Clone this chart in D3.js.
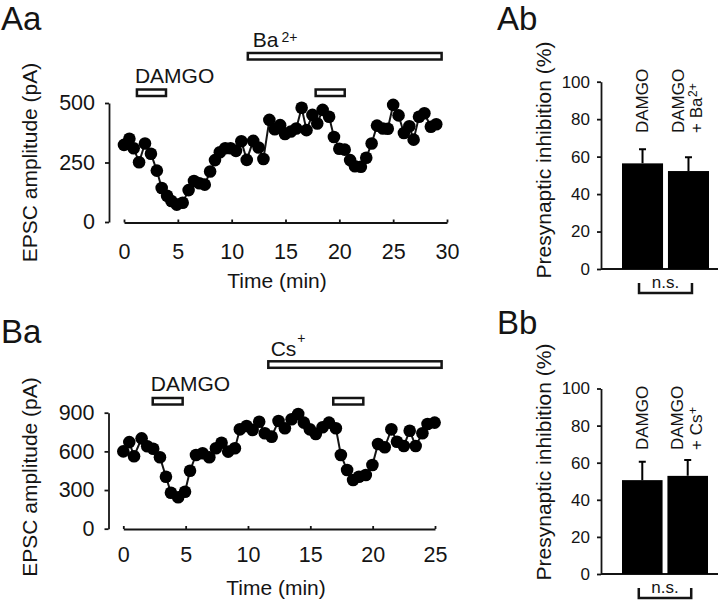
<!DOCTYPE html>
<html><head><meta charset="utf-8">
<script src="https://cdn.jsdelivr.net/npm/d3@7"></script>
<style>
body{margin:0;background:#fff;}
svg{display:block;font-family:"Liberation Sans",Arial,Helvetica,sans-serif;}
</style></head><body>
<svg id="c" width="720" height="604"></svg>
<script>
// ---------- DATA ----------
// Panel Aa: EPSC amplitude (pA) vs time (min)
const aTime = [0,0.5,0.9,1.4,1.95,2.5,3.05,3.5,4.0,4.4,4.9,5.45,6.0,6.5,7.0,7.5,8.0,8.45,8.9,9.4,9.9,10.4,10.9,11.4,12.0,12.5,12.95,13.5,14.0,14.5,14.95,15.5,16.0,16.5,16.95,17.5,17.95,18.45,19.05,19.5,20.0,20.5,21.0,21.45,22.0,22.5,23.0,23.5,24.05,24.5,25.0,25.5,26.0,26.5,26.9,27.4,27.9,28.5,29.0];
const aAmp  = [324,350,310,251,330,287,216,143,110,88,73,81,134,172,163,157,212,260,293,310,310,299,339,261,341,313,265,429,390,407,370,380,393,480,386,450,414,471,442,357,308,304,260,234,232,270,330,405,393,392,492,448,374,402,346,442,457,400,411];
const aXTicks = [0,5,10,15,20,25,30];
const aYTicks = [0,250,500];
const aDrugStart = [1.2,17.8,11.5];
const aDrugEnd   = [3.9,20.5,29.5];

// Panel Ba
const bTime = [0,0.48,0.86,1.47,1.92,2.4,2.94,3.42,3.82,4.4,4.95,5.35,5.83,6.36,6.9,7.43,7.88,8.41,8.95,9.35,9.89,10.37,10.9,11.35,11.9,12.45,12.96,13.5,14.03,14.48,14.96,15.44,15.98,16.5,17.05,17.45,17.95,18.43,18.9,19.45,19.98,20.43,20.97,21.5,21.95,22.5,22.97,23.45,23.99,24.4,24.97];
const bAmp  = [600,672,562,701,640,620,554,403,279,244,287,450,572,585,554,624,667,598,624,771,797,766,830,740,714,836,779,849,890,823,771,735,787,823,779,572,455,378,403,417,494,657,632,771,675,642,760,642,740,812,823];
const bXTicks = [0,5,10,15,20,25];
const bYTicks = [0,300,600,900];
const bDrugStart = [2.36,16.84,11.63];
const bDrugEnd   = [4.76,19.25,25.53];

// Panels Ab / Bb: presynaptic inhibition (%)
const barYTicks = [0,20,40,60,80,100];
const abCats = ["DAMGO","DAMGO + Ba2+"];
const abMean = [56.4,52.3];
const abSem  = [7.5,7.3];
const bbCats = ["DAMGO","DAMGO + Cs+"];
const bbMean = [50.6,52.9];
const bbSem  = [9.9,8.5];

// ---------- DRAWING ----------
const svg = d3.select("#c");
const INK = "#141414";

function styleAxis(g, fs){
  g.attr("font-family", null).attr("font-size", fs);
  g.select(".domain").attr("stroke", INK).attr("stroke-width", 1.8);
  g.selectAll(".tick line").attr("stroke", INK).attr("stroke-width", 1.8);
  g.selectAll(".tick text").attr("fill", INK);
}

function trace(o){
  const x = d3.scaleLinear().domain([o.xTicks[0], o.xTicks[o.xTicks.length-1]]).range(o.xR);
  const y = d3.scaleLinear().domain([o.yTicks[0], o.yTicks[o.yTicks.length-1]]).range(o.yR);
  const g = svg.append("g");
  styleAxis(g.append("g").attr("transform", `translate(${o.yAxisX},0)`)
    .call(d3.axisLeft(y).tickValues(o.yTicks).tickSize(4).tickSizeOuter(0).tickPadding(o.yPad)), 21.5);
  styleAxis(g.append("g").attr("transform", `translate(0,${o.xAxisY})`)
    .call(d3.axisBottom(x).tickValues(o.xTicks).tickSize(-3).tickSizeOuter(0).tickPadding(o.xPad)), 21.5);

  const pts = d3.zip(o.t, o.v);
  g.append("path").datum(pts)
    .attr("d", d3.line().x(d => x(d[0])).y(d => y(d[1])))
    .attr("fill", "none").attr("stroke", INK).attr("stroke-width", 2);
  g.selectAll("circle.pt").data(pts).join("circle").attr("class","pt")
    .attr("cx", d => x(d[0])).attr("cy", d => y(d[1])).attr("r", 6.3).attr("fill", "#000");

  // drug application bars
  o.drugStart.forEach((s, i) => {
    g.append("rect").attr("x", x(s)).attr("y", o.drugRowY[i])
      .attr("width", x(o.drugEnd[i]) - x(s)).attr("height", 6.5)
      .attr("fill", "#fff").attr("stroke", INK).attr("stroke-width", 2.5);
  });
  // DAMGO label
  g.append("text").attr("x", x(o.drugStart[0]) - 2).attr("y", o.damgoY)
    .attr("font-size", 21).attr("fill", INK).text("DAMGO");
  // ion label
  const t = g.append("text").attr("x", x(o.drugStart[2]) + o.ionDx).attr("y", o.ionY)
    .attr("font-size", 21).attr("fill", INK);
  t.append("tspan").text(o.ion);
  t.append("tspan").attr("dx", o.supDx).attr("dy", o.supDy).attr("font-size", 14).text(o.ionSup);

  // axis titles
  g.append("text").attr("x", o.titleX).attr("y", o.titleY).attr("text-anchor", "middle")
    .attr("font-size", 21).attr("fill", INK).text("Time (min)");
  g.append("text").attr("transform", `translate(${o.yTitleX},${o.yTitleY}) rotate(-90)`)
    .attr("text-anchor", "middle").attr("font-size", 21).attr("fill", INK).text("EPSC amplitude (pA)");
}

function bars(o){
  const x = d3.scaleBand().domain(o.cats).range(o.xR).paddingInner(0.107);
  const y = d3.scaleLinear().domain([0,100]).range(o.yR);
  const g = svg.append("g");
  styleAxis(g.append("g").attr("transform", `translate(${o.axisX},0)`)
    .call(d3.axisLeft(y).tickValues(barYTicks).tickSize(4).tickSizeOuter(0).tickPadding(7)), 17);
  g.append("line").attr("x1", o.axisX).attr("x2", o.xEnd).attr("y1", y(0)).attr("y2", y(0))
    .attr("stroke", INK).attr("stroke-width", 1.8);
  g.selectAll("rect.bar").data(o.cats).join("rect").attr("class","bar")
    .attr("x", d => x(d)).attr("width", x.bandwidth())
    .attr("y", (d,i) => y(o.mean[i])).attr("height", (d,i) => y(0) - y(o.mean[i]))
    .attr("fill", "#000");
  o.cats.forEach((c, i) => {
    const cx = x(c) + x.bandwidth()/2;
    g.append("path")
      .attr("d", `M${cx},${y(o.mean[i])}V${y(o.mean[i]+o.sem[i])}M${cx-3.5},${y(o.mean[i]+o.sem[i])}H${cx+3.5}`)
      .attr("stroke", "#000").attr("stroke-width", 2).attr("fill", "none");
  });
  // rotated labels
  const c0 = x(o.cats[0]) + x.bandwidth()/2, c1 = x(o.cats[1]) + x.bandwidth()/2;
  const lab = (bx, parts) => {
    const t = g.append("text").attr("transform", `translate(${bx},${o.labY}) rotate(-90)`)
      .attr("font-size", 17).attr("fill", INK);
    t.append("tspan").text(parts[0]);
    if (parts[1]) t.append("tspan").attr("dy", -5).attr("dx", 0.5).attr("font-size", 12).text(parts[1]);
  };
  lab(c0 + 5.5, ["DAMGO"]);
  lab(c1 - 4.5, ["DAMGO"]);
  lab(c1 + 14, o.second);
  // n.s. bracket
  const by = y(0) + 24;
  g.append("path").attr("d", `M${c0-3.5},${by-10}V${by}H${c1+3.5}V${by-10}`)
    .attr("fill", "none").attr("stroke", INK).attr("stroke-width", 2.5);
  g.append("text").attr("x", (c0+c1)/2).attr("y", by - 5).attr("text-anchor", "middle")
    .attr("font-size", 17).attr("fill", INK).text("n.s.");
  g.append("text").attr("transform", `translate(${o.titleX},${o.titleY}) rotate(-90)`)
    .attr("text-anchor", "middle").attr("font-size", 21).attr("fill", INK).text("Presynaptic inhibition (%)");
}

// Panel letters
[["Aa",1,30],["Ab",497,30],["Ba",1,343],["Bb",497,334]].forEach(p => {
  svg.append("text").attr("x", p[1]).attr("y", p[2]).attr("font-size", 33).attr("fill", INK).text(p[0]);
});

trace({t: aTime, v: aAmp, xTicks: aXTicks, yTicks: aYTicks,
  xR: [124, 447], yR: [222, 103], yAxisX: 109, xAxisY: 222.5, yPad: 10, xPad: 21,
  drugStart: aDrugStart, drugEnd: aDrugEnd, drugRowY: [89.5, 89.5, 53],
  damgoY: 82.5, ion: "Ba", ionSup: "2+", ionDx: 5, ionY: 47.3, supDx: 3, supDy: -5.5,
  titleX: 277, titleY: 288, yTitleX: 37, yTitleY: 162.5});

trace({t: bTime, v: bAmp, xTicks: bXTicks, yTicks: bYTicks,
  xR: [123.3, 435], yR: [528.7, 412.7], yAxisX: 108.5, xAxisY: 529, yPad: 10, xPad: 18,
  drugStart: bDrugStart, drugEnd: bDrugEnd, drugRowY: [398, 398, 361.3],
  damgoY: 390.7, ion: "Cs", ionSup: "+", ionDx: 2.4, ionY: 356, supDx: 1, supDy: -13.5,
  titleX: 276, titleY: 595, yTitleX: 37, yTitleY: 477});

bars({cats: abCats, mean: abMean, sem: abSem, xR: [622, 709], yR: [269, 81.7],
  axisX: 601, xEnd: 718, labY: 133, second: ["+ Ba", "2+"], titleX: 551, titleY: 160});
bars({cats: bbCats, mean: bbMean, sem: bbSem, xR: [622, 708], yR: [574, 388.5],
  axisX: 601, xEnd: 718, labY: 450, second: ["+ Cs", "+"], titleX: 551, titleY: 462});
</script>
</body></html>
